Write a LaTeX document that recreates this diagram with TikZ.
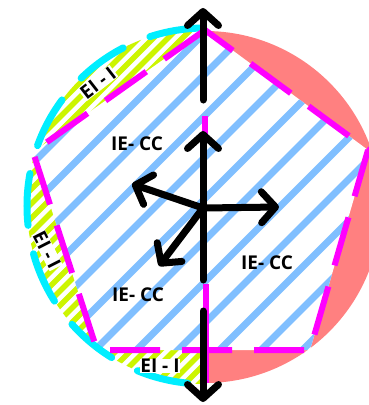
\documentclass[tikz,border=0pt]{standalone}
\usepackage{fontspec}
\setmainfont{Open Sans}
\usetikzlibrary{arrows.meta}
\definecolor{hatchblue}{RGB}{128,191,255}
\definecolor{limeg}{RGB}{204,245,0}
\definecolor{cyanarc}{RGB}{0,238,255}
\definecolor{magen}{RGB}{255,0,255}
\definecolor{salmon}{RGB}{255,128,128}
\begin{document}
\begin{tikzpicture}[x=1pt,y=-1pt,
  lbl/.style={font=\fontsize{19}{21}\selectfont\bfseries, inner sep=1pt},
  eilbl/.style={lbl, fill=white, inner sep=0.5pt},
  vec/.style={line width=7pt, line cap=round, -{Straight Barb[length=14pt,width=31pt,round]}},
  shaft/.style={line width=7pt, line cap=round},
  bluehatch/.style={hatchblue, line width=7pt, line cap=round},
  limehatch/.style={limeg, line width=5.5pt},
  pentedge/.style={magen, line width=6pt, dash pattern=on 50pt off 22pt},
  arcedge/.style={cyanarc, line width=7pt, line cap=round, dash pattern=on 52pt off 29pt, dash phase=-4pt}
]
\useasboundingbox (0,0) rectangle (369,405);
\fill[white] (0,0) rectangle (369,405);
% pentagon corners
\coordinate (T) at (205,30);
\coordinate (L) at (33,152);
\coordinate (BL) at (97,350);
\coordinate (BR) at (310,350);
\coordinate (R) at (368,150);
\coordinate (C) at (205,206);
% red right half disk
\begin{scope}
  \clip (205,0) rectangle (369,405);
  \fill[salmon] (205,207) circle[radius=176];
\end{scope}
% lime hatch on left half disk
\begin{scope}
  \clip (0,0) rectangle (205,405);
  \clip (C) circle[radius=178];
  \foreach \k in {0,...,60} {
    \pgfmathsetmacro{\c}{3+14.5*\k}
    \draw[limehatch] (\c-450,450) -- (\c,0);
  }
\end{scope}
% pentagon interior
\fill[white] (T) -- (L) -- (BL) -- (BR) -- (R) -- cycle;
\begin{scope}
  \clip (T) -- (L) -- (BL) -- (BR) -- (R) -- cycle;
  \foreach \k in {0,...,20} {
    \pgfmathsetmacro{\c}{30+41.5*\k}
    \draw[bluehatch] (\c-450,450) -- (\c,0);
  }
\end{scope}
% cyan dashed arc
\draw[arcedge] (205,28) arc[start angle=-90, end angle=-270, radius=178];
% magenta pentagon
\draw[pentedge] (T) -- (L) -- (BL) -- (BR) -- (R) -- cycle;
\draw[magen, line width=6pt] (205,116) -- (205,136);
\draw[magen, line width=6pt] (206,284) -- (206,383);
% labels
\node[eilbl, rotate=38] (ei1) at (98,83) {EI - I};
\node[eilbl, rotate=-63] (ei2) at (47,250) {EI - I};
\node[eilbl] (ei3) at (160,366) {EI - I};
\node[lbl] (ie1) at (137,144) {IE- CC};
\node[lbl] (ie2) at (267,263) {IE- CC};
\node[lbl] (ie3) at (138,295) {IE- CC};
% black vectors
\coordinate (O) at (203,208);
\coordinate (up) at (203,131);
\coordinate (rt) at (279,207);
\coordinate (ul) at (132,184);
\coordinate (dl) at (159,266);
\coordinate (dn) at (203,280);
\coordinate (ta) at (203,100);
\coordinate (tb) at (203,8);
\coordinate (ba) at (203,311);
\coordinate (bb) at (203,402);
\draw[vec] (O) -- (up);
\draw[vec] (O) -- (rt);
\draw[vec] (O) -- (ul);
\draw[vec] (O) -- (dl);
\draw[shaft] (O) -- (dn);
\draw[vec] (ta) -- (tb);
\draw[vec] (ba) -- (bb);
\end{tikzpicture}
\end{document}
